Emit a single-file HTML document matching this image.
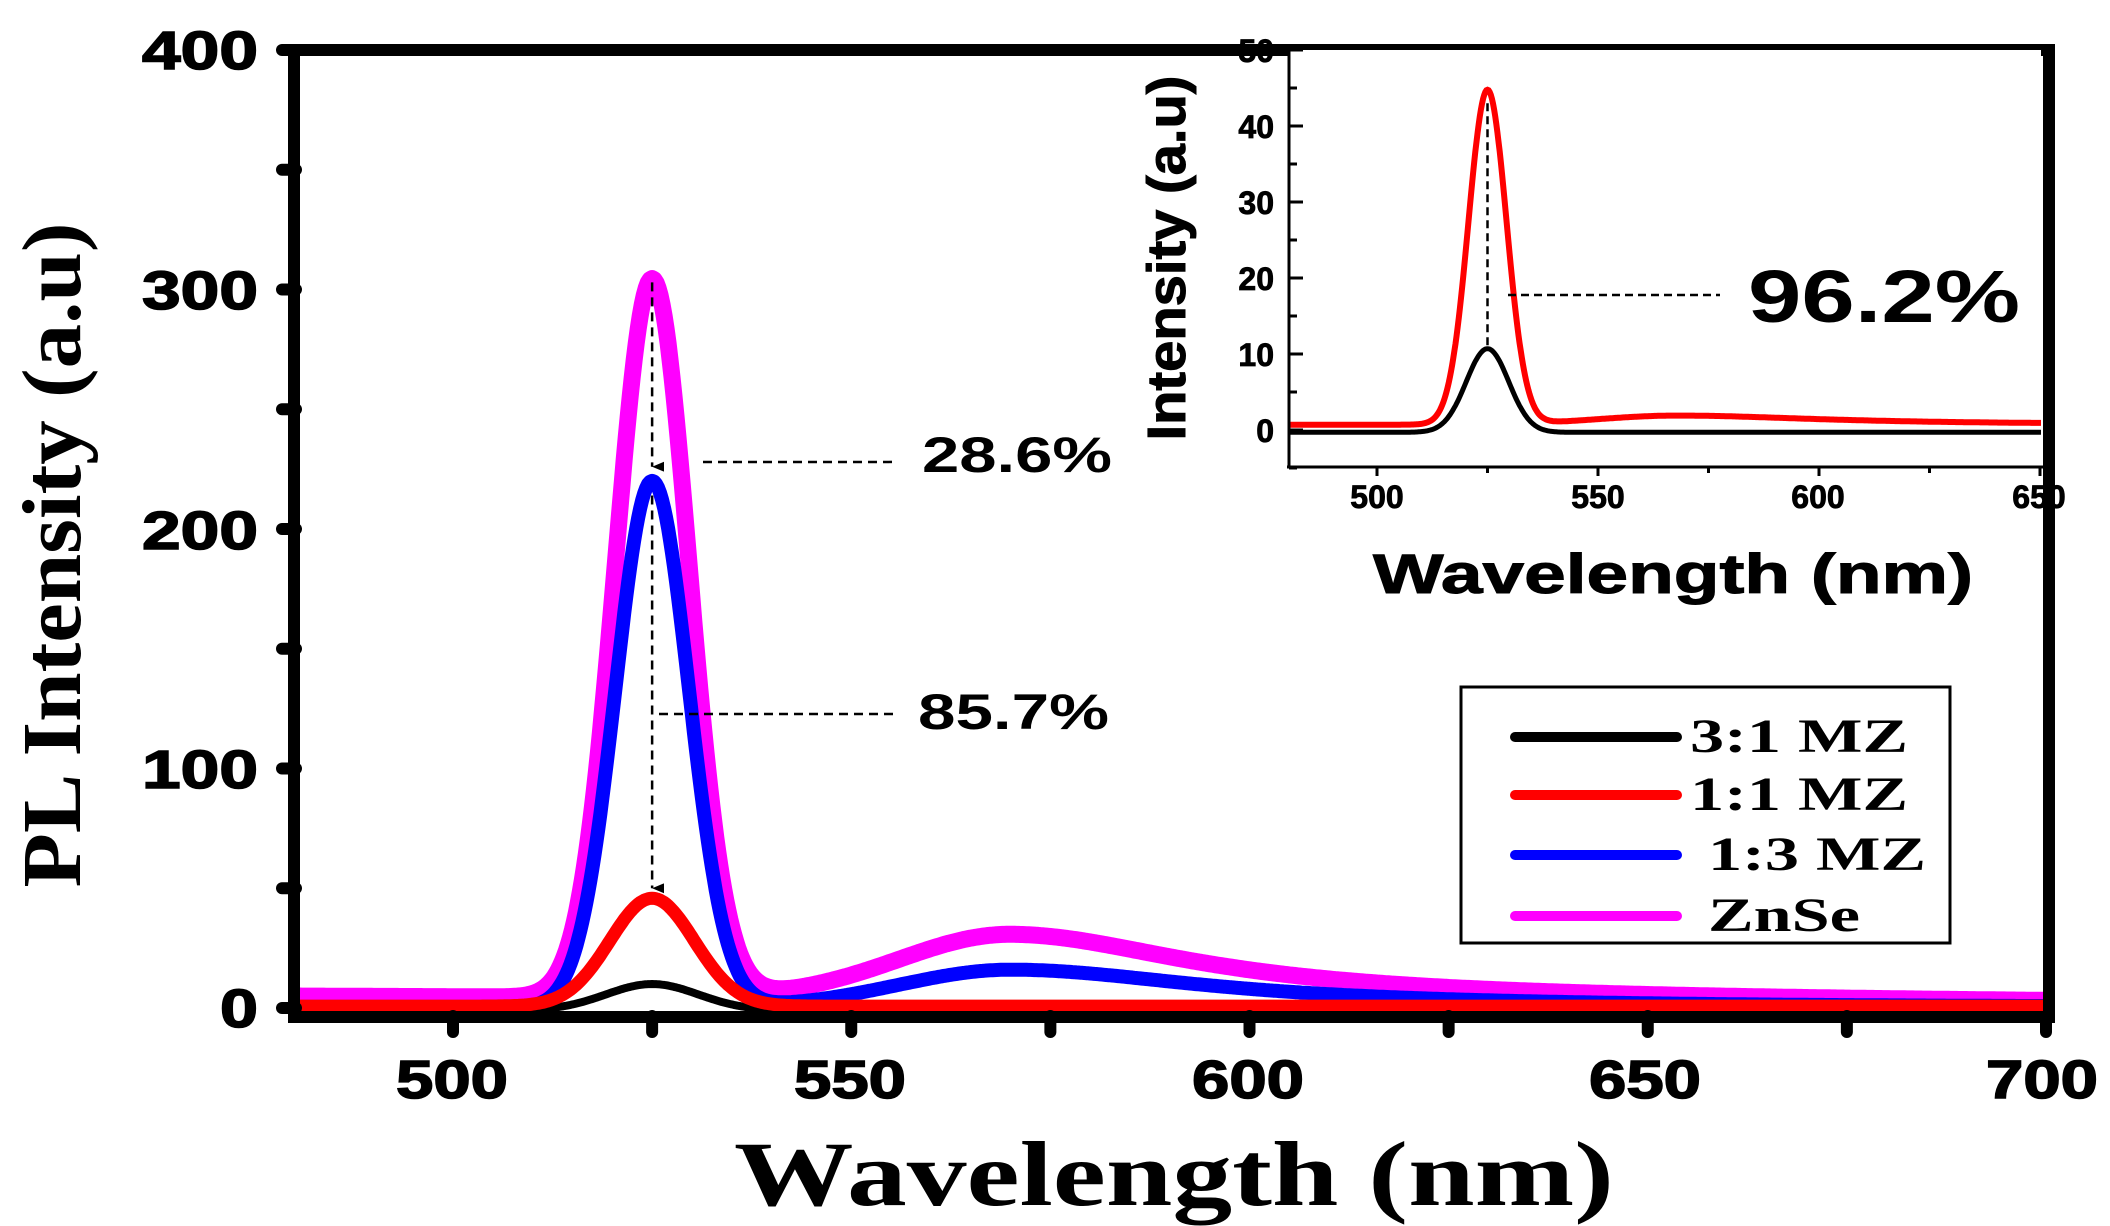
<!DOCTYPE html>
<html><head><meta charset="utf-8"><style>
html,body{margin:0;padding:0;background:#fff}
svg{display:block}
.t{font-family:"Liberation Sans",sans-serif;font-weight:bold}
.s{font-family:"Liberation Serif",serif;font-weight:bold}
</style></head><body>
<svg id="c" width="2110" height="1226" viewBox="0 0 2110 1226" xmlns="http://www.w3.org/2000/svg">
<defs>
<clipPath id="cp"><rect x="294" y="56" width="1750" height="962"/></clipPath>
<clipPath id="ci"><rect x="1289" y="56" width="752" height="410"/></clipPath>
<marker id="ar" markerWidth="10" markerHeight="12" refX="5" refY="12" orient="auto" markerUnits="userSpaceOnUse"><path d="M0,0 L10,0 L5,12 z" fill="#000"/></marker>
</defs>
<g id="main"></g>
<rect x="294" y="50" width="1755" height="967" fill="none" stroke="#000" stroke-width="12"/>
<g class="t" font-size="54" text-anchor="end" fill="#000" stroke="#000" stroke-width="1.5">
<text x="258" y="1027" textLength="38" lengthAdjust="spacingAndGlyphs">0</text>
<text x="258" y="788" textLength="116" lengthAdjust="spacingAndGlyphs">100</text>
<text x="258" y="549" textLength="116" lengthAdjust="spacingAndGlyphs">200</text>
<text x="258" y="309" textLength="116" lengthAdjust="spacingAndGlyphs">300</text>
<text x="258" y="69" textLength="116" lengthAdjust="spacingAndGlyphs">400</text>
</g>
<g class="t" font-size="54" text-anchor="middle" fill="#000" stroke="#000" stroke-width="1.5">
<text x="452" y="1098" textLength="112" lengthAdjust="spacingAndGlyphs">500</text>
<text x="850" y="1098" textLength="112" lengthAdjust="spacingAndGlyphs">550</text>
<text x="1248" y="1098" textLength="112" lengthAdjust="spacingAndGlyphs">600</text>
<text x="1645" y="1098" textLength="112" lengthAdjust="spacingAndGlyphs">650</text>
<text x="2042" y="1098" textLength="112" lengthAdjust="spacingAndGlyphs">700</text>
</g>
<text class="s" x="1174" y="1205" font-size="92" text-anchor="middle" textLength="880" lengthAdjust="spacingAndGlyphs">Wavelength (nm)</text>
<text class="s" transform="translate(80,555) rotate(-90)" font-size="84" text-anchor="middle" textLength="665" lengthAdjust="spacingAndGlyphs">PL Intensity (a.u)</text>
<text class="t" x="922" y="472" font-size="50" textLength="190" lengthAdjust="spacingAndGlyphs">28.6%</text>
<text class="t" x="918" y="729" font-size="50" textLength="191" lengthAdjust="spacingAndGlyphs">85.7%</text>
<g id="ins"></g>
<g class="t" font-size="32" text-anchor="end" stroke="#000" stroke-width="0.8">
<text x="1274" y="442">0</text><text x="1274" y="366">10</text><text x="1274" y="290">20</text>
<text x="1274" y="214">30</text><text x="1274" y="138">40</text><text x="1274" y="62">50</text>
</g>
<g class="t" font-size="32" text-anchor="middle" stroke="#000" stroke-width="0.8">
<text x="1377" y="508">500</text><text x="1598" y="508">550</text><text x="1818" y="508">600</text><text x="2039" y="508">650</text>
</g>
<text class="t" x="1673" y="593" font-size="56" text-anchor="middle" textLength="600" lengthAdjust="spacingAndGlyphs" stroke="#000" stroke-width="1">Wavelength (nm)</text>
<text class="t" transform="translate(1185,258) rotate(-90)" font-size="54" text-anchor="middle" textLength="365" lengthAdjust="spacingAndGlyphs" stroke="#000" stroke-width="1">Intensity (a.u)</text>
<text class="t" x="1748" y="322" font-size="74" textLength="272" lengthAdjust="spacingAndGlyphs">96.2%</text>
<rect x="1461" y="687" width="489" height="256" fill="#fff" stroke="#000" stroke-width="3"/>
<g stroke-width="10" stroke-linecap="round">
<line x1="1515" y1="737" x2="1677" y2="737" stroke="#000"/>
<line x1="1515" y1="795" x2="1677" y2="795" stroke="#f00"/>
<line x1="1515" y1="855" x2="1677" y2="855" stroke="#00f"/>
<line x1="1515" y1="916" x2="1677" y2="916" stroke="#f0f"/>
</g>
<g class="s" font-size="48">
<text x="1690" y="752" textLength="218" lengthAdjust="spacingAndGlyphs">3:1 MZ</text>
<text x="1690" y="810" textLength="218" lengthAdjust="spacingAndGlyphs">1:1 MZ</text>
<text x="1708" y="870" textLength="218" lengthAdjust="spacingAndGlyphs">1:3 MZ</text>
<text x="1708" y="931" textLength="152" lengthAdjust="spacingAndGlyphs">ZnSe</text>
</g>
</svg>
<script>
(function(){
var NS="http://www.w3.org/2000/svg";
function el(p,n,a){var e=document.createElementNS(NS,n);for(var k in a)e.setAttribute(k,a[k]);p.appendChild(e);return e;}
function g(x,c,s){return Math.exp(-(x-c)*(x-c)/(2*s*s));}
function bump(x,A,c,sl,tau){return x<c?A*g(x,c,sl):A/(1+Math.pow((x-c)/tau,2));}
var main=document.getElementById('main');
function X(w){return 453+(w-500)*7.965;}
function Y(v){return 1008-v*2.395;}
var mag=function(x){var b=5-3*(x-480)/220;return b+300*g(x,525,4.6)+bump(x,27,570,14,28);};
var blu=function(x){return 220*g(x,525,4.6)+bump(x,16,570,14,30);};
var red=function(x){return 45*g(x,525,5.3)+0.8;};
var blk=function(x){return 11*g(x,525,5.8)-1;};
function path(f,X,Y,a,b){var d="";for(var x=a;x<=b;x+=0.25){d+=(d?"L":"M")+X(x).toFixed(1)+","+Y(f(x)).toFixed(1);}return d;}
var cg=el(main,'g',{'clip-path':'url(#cp)',fill:'none','stroke-linejoin':'round'});
el(cg,'path',{d:path(mag,X,Y,478,702),stroke:'#f0f','stroke-width':17});
el(cg,'path',{d:path(blu,X,Y,478,702),stroke:'#00f','stroke-width':14});
el(cg,'path',{d:path(blk,X,Y,478,702),stroke:'#000','stroke-width':8});
el(cg,'path',{d:path(red,X,Y,478,702),stroke:'#f00','stroke-width':13});
var tg=el(main,'g',{stroke:'#000','stroke-width':12,'stroke-linecap':'round'});
for(var v=0;v<=400;v+=50){el(tg,'line',{x1:282,y1:Y(v),x2:296,y2:Y(v)});}
for(var w=500;w<=700;w+=25){el(tg,'line',{x1:X(w),y1:1016,x2:X(w),y2:1032});}
var dg=el(main,'g',{stroke:'#000','stroke-width':2.5,'stroke-dasharray':'9,6',fill:'none'});
el(dg,'line',{x1:X(525),y1:Y(303),x2:X(525),y2:Y(226),'marker-end':'url(#ar)'});
el(dg,'line',{x1:X(525),y1:Y(214),x2:X(525),y2:Y(50),'marker-end':'url(#ar)'});
el(dg,'line',{x1:703,y1:Y(228),x2:893,y2:Y(228)});
el(dg,'line',{x1:659,y1:714,x2:893,y2:714});
var ins=document.getElementById('ins');
function XI(w){return 1377+(w-500)*4.42;}
function YI(v){return 430-v*7.6;}
el(ins,'rect',{x:1289,y:50,width:752,height:417,fill:'#fff',stroke:'none'});
var ic=el(ins,'g',{'clip-path':'url(#ci)',fill:'none'});
var ib=function(x){return 11*g(x,525,4.8)-0.3;};
var ir=function(x){return 44*g(x,525,4.3)+0.7+bump(x,1.2,568,18,40);};
el(ic,'path',{d:path(ib,XI,YI,478,652),stroke:'#000','stroke-width':5});
el(ic,'path',{d:path(ir,XI,YI,478,652),stroke:'#f00','stroke-width':6});
var ia=el(ins,'g',{stroke:'#000','stroke-width':3});
el(ia,'line',{x1:1289,y1:50,x2:1289,y2:468});
el(ia,'line',{x1:1287,y1:467,x2:2044,y2:467});
for(var v=-5;v<=50;v+=5){el(ia,'line',{x1:1289,y1:YI(v),x2:v%10==0?1303:1297,y2:YI(v)});}
for(var w=500;w<=650;w+=25){el(ia,'line',{x1:XI(w),y1:467,x2:XI(w),y2:w%50==0?476:473});}
var id=el(ins,'g',{stroke:'#000','stroke-width':2.5,'stroke-dasharray':'8,5'});
el(id,'line',{x1:XI(525),y1:YI(43),x2:XI(525),y2:YI(11)});
el(id,'line',{x1:1508,y1:295,x2:1720,y2:295});
})();
</script>
</body></html>
